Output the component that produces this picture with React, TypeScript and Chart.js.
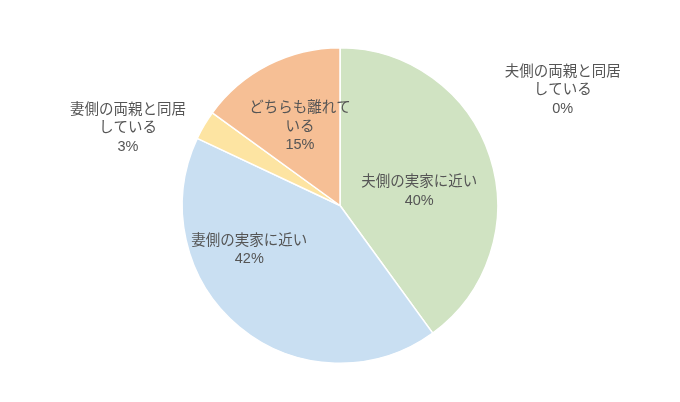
import React, { useEffect, useRef } from 'react';
import { Chart, registerables } from 'chart.js';

Chart.register(...registerables);

// 区分と割合(%)
const categories = [
  '夫側の両親と同居している',
  '夫側の実家に近い',
  '妻側の実家に近い',
  '妻側の両親と同居している',
  'どちらも離れている',
];
const values = [0, 40, 42, 3, 15];
// ラベルの改行
const labelLines = [
  ['夫側の両親と同居', 'している'],
  ['夫側の実家に近い'],
  ['妻側の実家に近い'],
  ['妻側の両親と同居', 'している'],
  ['どちらも離れて', 'いる'],
];
const colors = ['#b4a7d6', '#d0e3c2', '#c9dff2', '#fde4a2', '#f6bf95'];

// ラベル位置(上から時計回りの角度, 半径比)
const labelPlace = [
  { angle: 62.6, r: 1.59 },
  { angle: 80, r: 0.51 },
  { angle: 244, r: 0.64 },
  { angle: 290, r: 1.43 },
  { angle: 333, r: 0.56 },
];

const sliceLabels = {
  id: 'sliceLabels',
  afterDatasetsDraw(chart: any) {
    const ctx = chart.ctx;
    const meta = chart.getDatasetMeta(0);
    ctx.save();
    ctx.font = '14.5px "Liberation Sans", "Noto Sans CJK JP", sans-serif';
    ctx.fillStyle = '#555555';
    ctx.textAlign = 'center';
    ctx.textBaseline = 'middle';
    meta.data.forEach((arc: any, i: number) => {
      const p = labelPlace[i];
      const a = (p.angle * Math.PI) / 180;
      const cx = arc.x + Math.sin(a) * arc.outerRadius * p.r;
      const cy = arc.y - Math.cos(a) * arc.outerRadius * p.r;
      const lines = [...labelLines[i], values[i] + '%'];
      const lh = 18.5;
      const top = cy - ((lines.length - 1) * lh) / 2;
      lines.forEach((t, k) => ctx.fillText(t, cx, top + k * lh));
    });
    ctx.restore();
  },
};

const PieChart: React.FC = () => {
  const canvasRef = useRef<HTMLCanvasElement | null>(null);
  const chartRef = useRef<Chart | null>(null);

  useEffect(() => {
    document.body.style.margin = '0';
    if (!canvasRef.current) return;
    const ctx = canvasRef.current.getContext('2d');
    if (!ctx) return;
    if (chartRef.current) chartRef.current.destroy();

    chartRef.current = new Chart(ctx, {
      type: 'pie',
      data: {
        labels: categories,
        datasets: [
          {
            data: values,
            backgroundColor: colors,
            borderColor: '#ffffff',
            borderWidth: 1.5,
          },
        ],
      },
      options: {
        responsive: false,
        animation: false,
        layout: { padding: { top: 47, bottom: 38, left: 0, right: 0 } },
        plugins: {
          legend: { display: false },
          tooltip: { enabled: false },
        },
      },
      plugins: [sliceLabels],
    });

    return () => {
      if (chartRef.current) {
        chartRef.current.destroy();
        chartRef.current = null;
      }
    };
  }, []);

  return (
    <div style={{ width: 680, height: 402, background: '#fff' }}>
      <canvas ref={canvasRef} width={680} height={402}></canvas>
    </div>
  );
};

export default function App() {
  return <PieChart />;
}
